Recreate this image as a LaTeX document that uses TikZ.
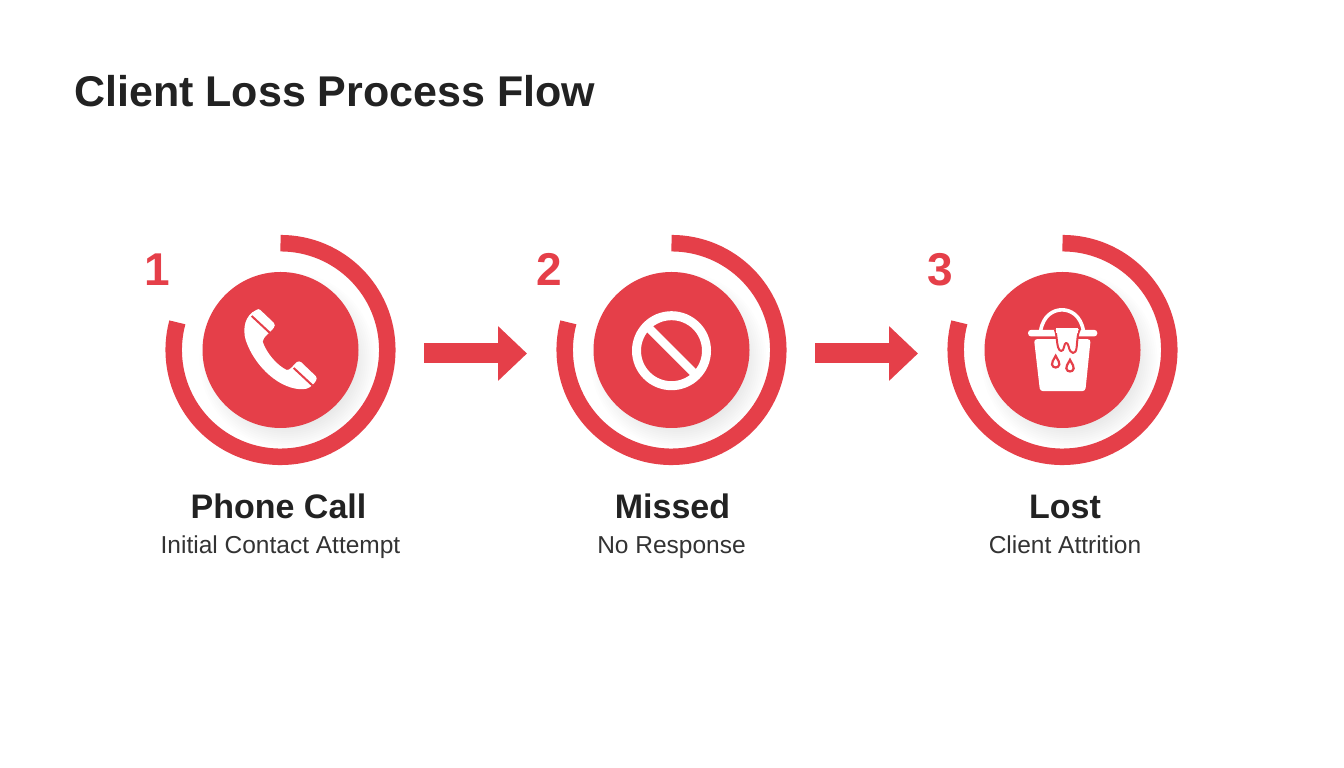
\documentclass[tikz,border=0pt]{standalone}
\usepackage{fontspec}
\setmainfont{Liberation Sans}
\usetikzlibrary{arrows.meta}
\definecolor{brandred}{HTML}{E53F49}
\definecolor{inkdark}{HTML}{222222}
\definecolor{inksoft}{HTML}{333333}
\tikzset{
  x=1pt,y=1pt,
  disc/.style={circle,fill=brandred,minimum size=156pt,inner sep=0pt,outer sep=0pt},
  ringbox/.style={circle,minimum size=230pt,inner sep=0pt,outer sep=0pt},
  ringarc/.style={draw=brandred,line width=16.5pt},
  flowarrow/.style={draw=brandred,line width=20pt,shorten <=28.5pt,shorten >=29.5pt,
    -{Triangle[width=53pt,length=29pt]}},
  numtext/.style={text=brandred,font=\fontsize{46}{50}\selectfont\bfseries,anchor=base,inner sep=0pt},
  headtext/.style={text=inkdark,font=\fontsize{34}{38}\selectfont\bfseries,anchor=base,inner sep=0pt},
  subtext/.style={text=inksoft,font=\fontsize{24.5}{28}\selectfont,anchor=base,inner sep=0pt},
  titletext/.style={text=inkdark,font=\fontsize{43}{50}\selectfont\bfseries,anchor=base west,inner sep=0pt},
  iconwhite/.style={fill=white,draw=none},
  phonecoords/.style={shift={(-45.5,50)},x=0.3333pt,y=-0.3333pt},
  bucketcoords/.style={shift={(-42.5,49.5)},x=0.3333pt,y=-0.3333pt},
}
\newcommand{\stepbase}[2]{%
  \foreach \rr in {64,66,...,88}{
    \fill[black,opacity=0.009] (#2+7,418-10) circle (\rr);
  }
  \node[disc] (disc#1) at (#2,418) {};
  \node[ringbox] (ring#1) at (#2,418) {};
  \draw[ringarc] (#2,418)++(90:106.8) arc (90:-195:106.8);
}
\begin{document}
\begin{tikzpicture}
\useasboundingbox (0,0) rectangle (1344,768);
\fill[white] (0,0) rectangle (1344,768);

\node[titletext] (title) at (74,661) {Client Loss Process Flow};

\stepbase{1}{280.5}
\stepbase{2}{671.5}
\stepbase{3}{1062.5}

\node[numtext] (num1) at (157,482) {1};
\node[numtext] (num2) at (549.7,482) {2};
\node[numtext] (num3) at (940.5,482) {3};

\draw[flowarrow] ([yshift=-3.5pt]ring1.east) -- ([yshift=-3.5pt]ring2.west);
\draw[flowarrow] ([yshift=-3.5pt]ring2.east) -- ([yshift=-3.5pt]ring3.west);

% phone icon
\begin{scope}[shift={(disc1.center)}]
\begin{scope}[phonecoords]
\fill[iconwhite] (64,30) .. controls (68,26) and (72,27) .. (76,30)
  -- (116,68) .. controls (121,73) and (120,78) .. (116,84)
  .. controls (108,96) and (84,110) .. (83,125)
  .. controls (95,160) and (125,195) .. (155,210)
  .. controls (165,212) and (176,194) .. (186,186)
  .. controls (190,183) and (195,184) .. (199,187)
  -- (242,228) .. controls (246,232) and (246,238) .. (243,242)
  .. controls (236,254) and (226,262) .. (215,266)
  .. controls (190,272) and (150,262) .. (115,235)
  .. controls (75,205) and (45,160) .. (32,120)
  .. controls (22,85) and (30,45) .. (64,30) -- cycle;
\draw[brandred,line width=2pt] (50,48) -- (106,100);
\draw[brandred,line width=2pt] (176,204) -- (232,256);
\end{scope}
\end{scope}

% prohibited icon
\begin{scope}[shift={(disc2.center)}]
\draw[white,line width=9pt] (0,-0.7) circle (35);
\draw[white,line width=8.5pt] (-25,24.3) -- (25,-25.7);
\end{scope}

% bucket icon
\begin{scope}[shift={(disc3.center)}]
\begin{scope}[bucketcoords]
\draw[white,line width=3.6pt] (62,90) .. controls (70,45) and (100,28) .. (126,28)
  .. controls (152,28) and (182,45) .. (190,90);
\fill[iconwhite,rounded corners=3pt] (42,116) -- (212,116) -- (196,272) -- (60,272) -- cycle;
\fill[iconwhite,rounded corners=3.2pt] (24,88) rectangle (232,108);
\draw[brandred,line width=2pt,fill=white,line join=round]
  (105,88) .. controls (110,100) and (110,125) .. (114,140)
  .. controls (118,155) and (130,155) .. (132,140)
  .. controls (134,125) and (142,122) .. (146,138)
  .. controls (150,162) and (168,165) .. (170,140)
  .. controls (172,120) and (172,100) .. (180,86);
\fill[white] (109,84) rectangle (175,98);
\draw[brandred,line width=2.2pt,fill=white] (107,166) .. controls (100,180) and (94,186) .. (96,192)
  .. controls (98,204) and (116,204) .. (118,192) .. controls (120,186) and (114,180) .. (107,166) -- cycle;
\draw[brandred,line width=2.2pt,fill=white] (150,178) .. controls (143,192) and (137,198) .. (139,204)
  .. controls (141,216) and (159,216) .. (161,204) .. controls (163,198) and (157,192) .. (150,178) -- cycle;
\end{scope}
\end{scope}

\node[headtext] (head1) at (278.5,249.5) {Phone Call};
\node[headtext] (head2) at (672.5,249.5) {Missed};
\node[headtext] (head3) at (1065,249.5) {Lost};
\node[subtext] (sub1) at (280.5,214.5) {Initial Contact Attempt};
\node[subtext] (sub2) at (671.5,214.5) {No Response};
\node[subtext] (sub3) at (1065,214.5) {Client Attrition};
\end{tikzpicture}
\end{document}
